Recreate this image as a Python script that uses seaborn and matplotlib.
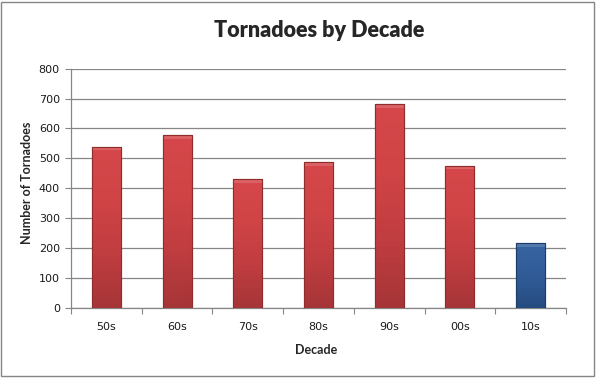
import numpy as np
import pandas as pd
import matplotlib
matplotlib.use("Agg")
import matplotlib.pyplot as plt
from matplotlib.patches import Rectangle
from matplotlib.colors import LinearSegmentedColormap
import seaborn as sns

# data
Decades = ["50s", "60s", "70s", "80s", "90s", "00s", "10s"]
Tornadoes = [539, 577, 430, 487, 681, 475, 215]
BarColors = ["red", "red", "red", "red", "red", "red", "blue"]

sns.set_theme(style="white")
plt.rcParams["font.family"] = ["DejaVu Sans"]

Df = pd.DataFrame({"Decade": Decades, "Count": Tornadoes, "Kind": BarColors})

fig = plt.figure(figsize=(5.97, 3.82), dpi=100)
ax = fig.add_axes([0.1189, 0.1945, 0.8291, 0.6255])

sns.barplot(data=Df, x="Decade", y="Count", hue="Kind", dodge=False,
            palette={"red": "#c93e40", "blue": "#2f5b92"}, width=0.41,
            legend=False, ax=ax, zorder=3)

# gradient fill for the bars, clipped to each patch
Ramps = {
    "red": LinearSegmentedColormap.from_list("r", ["#a63537", "#c03d40", "#d04446", "#d5474a"]),
    "blue": LinearSegmentedColormap.from_list("b", ["#264c80", "#2d5790", "#335f9c", "#3764a2"]),
}
Edges = {"red": "#8e2c2e", "blue": "#1e3d66"}
Grad = np.linspace(0, 1, 64).reshape(-1, 1)
for i, p in enumerate(ax.patches[:len(Decades)]):
    x0, y0 = p.get_x(), p.get_y()
    w, h = p.get_width(), p.get_height()
    kind = BarColors[i]
    p.set_edgecolor(Edges[kind])
    p.set_linewidth(0.8)
    im = ax.imshow(Grad, cmap=Ramps[kind], aspect="auto", origin="lower",
                   extent=(x0, x0 + w, y0, y0 + h), zorder=3.1)
    im.set_clip_path(p)
    # little bevel on the top
    ax.add_patch(Rectangle((x0, y0 + h - 12), w, 12, facecolor="white",
                           alpha=0.15, edgecolor="none", zorder=3.2))
    ax.add_patch(Rectangle((x0, y0), w, h, facecolor="none",
                           edgecolor=Edges[kind], lw=0.8, zorder=3.3))

ax.set_xlim(-0.5, len(Decades) - 0.5)
ax.set_ylim(0, 800)
ax.set_yticks(range(0, 801, 100))
ax.yaxis.grid(True, color="#868686", lw=0.9)
ax.set_axisbelow(True)
for gl in ax.get_ygridlines():
    gl.set_zorder(0.5)

for s in ["top", "right"]:
    ax.spines[s].set_visible(False)
for s in ["left", "bottom"]:
    ax.spines[s].set_color("#868686")
    ax.spines[s].set_linewidth(0.9)

ax.set_xticks(np.arange(-0.5, len(Decades)), minor=True)
ax.tick_params(axis="x", which="major", length=0, pad=10, labelsize=8,
               labelcolor="#1a1a1a")
ax.tick_params(axis="x", which="minor", length=4, width=0.8, color="#868686",
               direction="out", bottom=True)
ax.tick_params(axis="y", which="major", length=4, width=0.8, color="#868686",
               direction="out", left=True, pad=4, labelsize=8,
               labelcolor="#1a1a1a")
ax.set_xlabel("")
ax.set_ylabel("")

fig.text(0.535, 0.921, "Tornadoes by Decade", ha="center", va="center",
         fontsize=15.5, fontweight="heavy", family=["Lato", "DejaVu Sans"])
fig.text(0.045, 0.521, "Number of Tornadoes", ha="center", va="center",
         rotation=90, fontsize=9, fontweight="bold",
         family=["Lato", "DejaVu Sans"])
fig.text(0.530, 0.084, "Decade", ha="center", va="center", fontsize=9,
         fontweight="bold", family=["Lato", "DejaVu Sans"])

# chart area border
fig.patches.append(Rectangle((0.002, 0.016), 0.993, 0.98,
                             transform=fig.transFigure, fill=False,
                             edgecolor="#868686", lw=1.0))

fig.savefig("out.png", dpi=100)
